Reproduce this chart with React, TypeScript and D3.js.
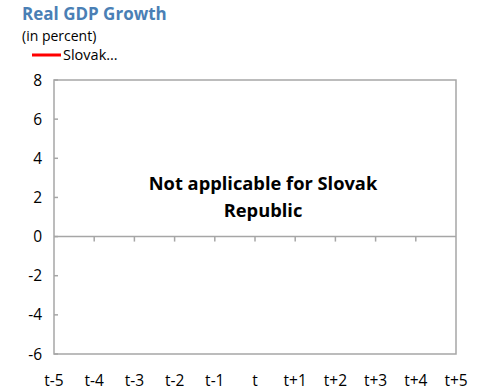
import React from "react";
import * as d3 from "d3";

const categories = ["t-5", "t-4", "t-3", "t-2", "t-1", "t", "t+1", "t+2", "t+3", "t+4", "t+5"];
const yTicks = [-6, -4, -2, 0, 2, 4, 6, 8];
const seriesName = "Slovak...";
const seriesValues: number[] = [];
const title = "Real GDP Growth";
const subtitle = "(in percent)";
const noteLines = ["Not applicable for Slovak", "Republic"];

const W = 477, H = 392;
const m = { left: 54, right: 456, top: 80, bottom: 354 };
const font = "'Open Sans', 'Noto Sans', sans-serif";

export default function App() {
  const x = d3.scalePoint<string>().domain(categories).range([m.left, m.right]);
  const y = d3.scaleLinear().domain([-6, 8]).range([m.bottom, m.top]);
  const axisColor = "#a6a6a6";
  const line = d3.line<number>().x((_, i) => x(categories[i])!).y(d => y(d));
  return (
    <svg width={W} height={H} style={{ position: "absolute", left: 0, top: 0 }} fontFamily={font}>
      <rect width={W} height={H} fill="#fff" />
      <text x={22} y={20} fontSize={17} fontWeight="bold" fill="#4a7fb5">{title}</text>
      <text x={22} y={41} fontSize={14} fill="#000">{subtitle}</text>
      <line x1={32} x2={61} y1={55} y2={55} stroke="#ff0000" strokeWidth={3} />
      <text x={63} y={60} fontSize={14.5} fill="#000">{seriesName}</text>
      {seriesValues.length > 0 && <path d={line(seriesValues) || ""} fill="none" stroke="#ff0000" strokeWidth={2} />}
      <rect x={m.left} y={m.top} width={m.right - m.left} height={m.bottom - m.top} fill="none" stroke={axisColor} strokeWidth={1.5} />
      <line x1={m.left} x2={m.right} y1={y(0)} y2={y(0)} stroke={axisColor} strokeWidth={1.5} />
      {yTicks.map(t => (
        <g key={t}>
          <line x1={m.left} x2={m.left + 4} y1={y(t)} y2={y(t)} stroke={axisColor} strokeWidth={1.5} />
          <text x={42} y={y(t) + 5.5} fontSize={15.5} textAnchor="end" fill="#000">{t}</text>
        </g>
      ))}
      {categories.map((c, i) => (
        <g key={c}>
          {i > 0 && i < categories.length - 1 && (
            <line x1={x(c)!} x2={x(c)!} y1={y(0)} y2={y(0) + 5} stroke={axisColor} strokeWidth={1.5} />
          )}
          <text x={x(c)!} y={386} fontSize={15.5} textAnchor="middle" fill="#000">{c}</text>
        </g>
      ))}
      {noteLines.map((l, i) => (
        <text key={i} x={263} y={190 + i * 27} fontSize={18.3} fontWeight="bold" textAnchor="middle" fill="#000">{l}</text>
      ))}
    </svg>
  );
}
